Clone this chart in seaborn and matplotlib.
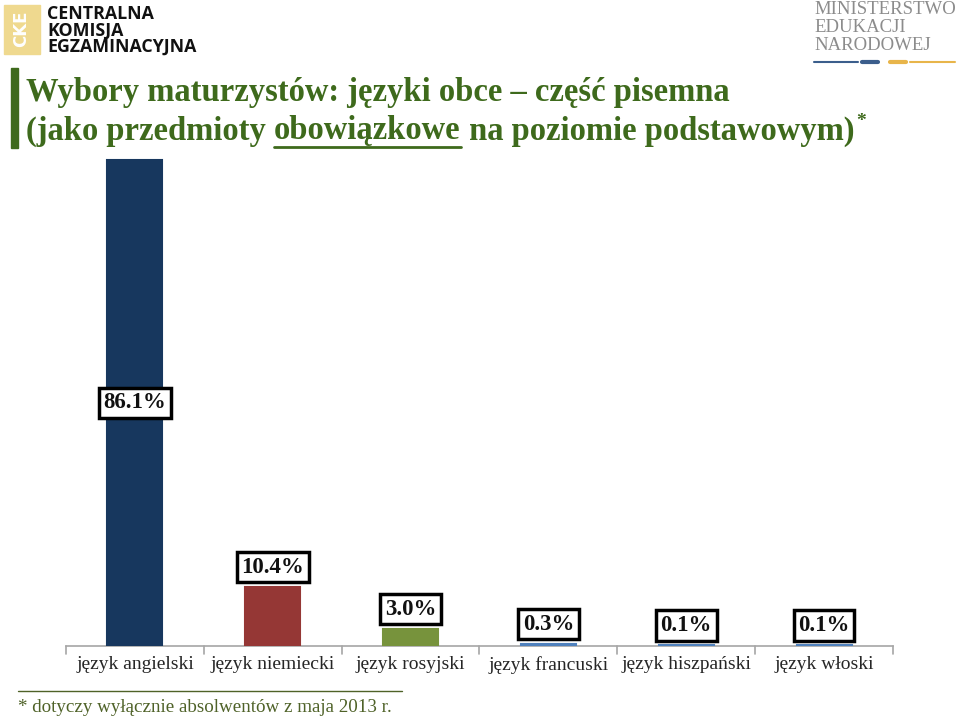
import matplotlib
matplotlib.use("Agg")
import matplotlib.pyplot as plt
import seaborn as sns
import pandas as pd
from matplotlib.patches import Rectangle

categories = ["język angielski", "język niemiecki", "język rosyjski",
              "język francuski", "język hiszpański", "język włoski"]
values = [86.1, 10.4, 3.0, 0.3, 0.1, 0.1]
value_labels = ["86.1%", "10.4%", "3.0%", "0.3%", "0.1%", "0.1%"]
colors = ["#17375E", "#953735", "#77933C", "#4F81BD", "#4F81BD", "#4F81BD"]

sns.set_theme(style="white")
plt.rcParams['font.family'] = ['Liberation Serif', 'DejaVu Serif']

W, H = 960, 719
fig = plt.figure(figsize=(W / 100, H / 100), dpi=100)
fig.patch.set_facecolor("white")

def fx(px):
    return px / W

def fy(py):
    return 1 - py / H

ax_left, ax_right, ax_top, ax_bot = 66, 893, 150, 646
ax = fig.add_axes([fx(ax_left), fy(ax_bot), fx(ax_right - ax_left), (ax_bot - ax_top) / H])
df = pd.DataFrame({"cat": categories, "val": values})
sns.barplot(data=df, x="cat", y="val", hue="cat", palette=colors, width=0.4,
            legend=False, ax=ax, saturation=1)
for p, c in zip(ax.patches, colors):
    p.set_edgecolor(c)
    p.set_linewidth(1.5)
    p.set_zorder(3)
ppp = (ax_bot - 160) / 86.1
ax.set_ylim(0, (ax_bot - ax_top) / ppp)
ax.set_xlim(-0.5, len(categories) - 0.5)
ax.set_xlabel("")
ax.set_ylabel("")
ax.set_yticks([])
for s in ["top", "right", "left"]:
    ax.spines[s].set_visible(False)
ax.spines["bottom"].set_color("#A6A6A6")
ax.spines["bottom"].set_linewidth(1.2)
ax.spines["bottom"].set_zorder(1)
ax.set_xticks([i for i in range(len(categories))])
ax.set_xticklabels(categories, fontsize=14, color="#262626")
ax.tick_params(axis="x", length=0, pad=7)
for b in [i - 0.5 for i in range(len(categories) + 1)]:
    ax.plot([b, b], [0, -1.5], color="#A6A6A6", lw=1.2, clip_on=False)

for i, (v, lab) in enumerate(zip(values, value_labels)):
    if v > 50:
        y = v / 2
    else:
        y = v + 20 / ppp
    ax.text(i, y, lab, ha="center", va="center", fontsize=16.5, fontweight="bold",
            color="#111111", zorder=5,
            bbox=dict(boxstyle="square,pad=0.2", fc="white", ec="black", lw=2.5))

# Title
green = "#3E6A1C"
fig.patches.append(Rectangle((fx(11), fy(148)), fx(7), (148 - 68) / H,
                             transform=fig.transFigure, color=green))
tsize = 23.5
fig.text(fx(26), fy(92), "Wybory maturzystów: języki obce – część pisemna",
         fontsize=tsize, fontweight="bold", color=green, va="center", ha="left")

fig.canvas.draw()
renderer = fig.canvas.get_renderer()
x = fx(26)
yl = fy(131)
parts = [("(jako przedmioty ", False), ("obowiązkowe", True),
         (" na poziomie podstawowym)", False)]
for txt, ul in parts:
    t = fig.text(x, yl, txt, fontsize=tsize, fontweight="bold", color=green,
                 va="center", ha="left")
    bb = t.get_window_extent(renderer=renderer)
    x1 = x + bb.width / W
    if ul:
        fig.add_artist(plt.Line2D([x, x1], [fy(147), fy(147)], color=green,
                                  lw=2, transform=fig.transFigure))
    x = x1
fig.text(x + 0.002, fy(121), "*", fontsize=14, fontweight="bold", color=green,
         va="center", ha="left")

# Footnote
fig.add_artist(plt.Line2D([fx(18), fx(402)], [fy(691), fy(691)], color="#4F6228",
                          lw=1, transform=fig.transFigure))
fig.text(fx(18), fy(708), "* dotyczy wyłącznie absolwentów z maja 2013 r.",
         fontsize=13.7, color="#4F6228", va="center", ha="left")

# CKE logo
fig.patches.append(Rectangle((fx(4), fy(54)), fx(36), 49 / H,
                             transform=fig.transFigure, color="#EFD98F"))
fig.text(fx(21), fy(29), "CKE", fontsize=12, fontweight="bold", color="white",
         rotation=90, ha="center", va="center", family="DejaVu Sans")
for k, line in enumerate(["CENTRALNA", "KOMISJA", "EGZAMINACYJNA"]):
    fig.text(fx(47), fy(14 + k * 16.5), line, fontsize=12.8, fontweight="bold",
             color="#111111", ha="left", va="center", family="Open Sans")

# MEN logo
for k, line in enumerate(["MINISTERSTWO", "EDUKACJI", "NARODOWEJ"]):
    fig.text(fx(814), fy(10 + k * 17.5), line, fontsize=13.5, color="#8C8C8C",
             ha="left", va="center", family="Liberation Serif")
fig.add_artist(plt.Line2D([fx(814), fx(858)], [fy(62), fy(62)], color="#3B5E8C",
                          lw=1.5, transform=fig.transFigure))
fig.add_artist(plt.Line2D([fx(862), fx(878)], [fy(62), fy(62)], color="#3B5E8C",
                          lw=3, transform=fig.transFigure))
fig.add_artist(plt.Line2D([fx(890), fx(906)], [fy(62), fy(62)], color="#E8B54A",
                          lw=3, transform=fig.transFigure))
fig.add_artist(plt.Line2D([fx(910), fx(955)], [fy(62), fy(62)], color="#E8B54A",
                          lw=1.5, transform=fig.transFigure))

fig.savefig("out.png", dpi=100, facecolor="white")
